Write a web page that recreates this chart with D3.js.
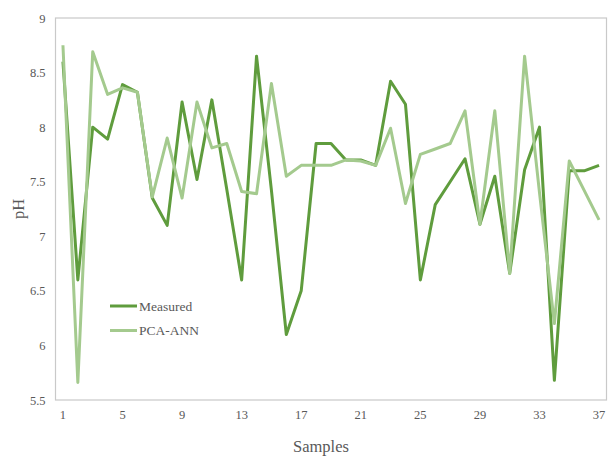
<!DOCTYPE html>
<html><head><meta charset="utf-8">
<script src="https://cdn.jsdelivr.net/npm/d3@7"></script>
<style>body{margin:0;background:#fff}svg{display:block}
svg text{font-family:"Liberation Serif","Times New Roman",Times,"DejaVu Serif",serif !important;}
</style>
</head><body>
<svg id="c" width="609" height="457"></svg>
<script>
const samples = d3.range(1, 38);
const measured = [8.60,6.60,8.00,7.89,8.39,8.32,7.35,7.10,8.23,7.52,8.25,7.43,6.60,8.65,7.42,6.10,6.50,7.85,7.85,7.70,7.70,7.65,8.42,8.21,6.60,7.29,7.50,7.71,7.11,7.55,6.66,7.61,8.00,5.68,7.60,7.60,7.65];
const pcaAnn   = [8.75,5.66,8.69,8.30,8.36,8.32,7.36,7.90,7.35,8.23,7.81,7.85,7.41,7.39,8.40,7.55,7.65,7.65,7.65,7.70,7.69,7.65,7.99,7.30,7.75,7.80,7.85,8.15,7.11,8.15,6.66,8.65,7.40,6.20,7.69,7.42,7.15];
const yTicks = [5.5,6,6.5,7,7.5,8,8.5,9];
const xTickLabels = [1,5,9,13,17,21,25,29,33,37];
const seriesNames = ["Measured","PCA-ANN"];
const colors = ["#5f9c3d","#a4ca8e"];

const svg = d3.select("#c");
const L = 55.5, R = 606.5, T = 18, B = 400;
const x = d3.scaleBand().domain(samples).range([L, R]);
const y = d3.scaleLinear().domain([5.5, 9]).range([B, T]);

svg.append("rect").attr("x", L).attr("y", T).attr("width", R - L).attr("height", B - T)
  .attr("fill", "none").attr("stroke", "#c9c9c9").attr("stroke-width", 1.2);

const yAxis = svg.append("g").attr("transform", `translate(${L},0)`)
  .call(d3.axisLeft(y).tickValues(yTicks).tickSize(0).tickPadding(10).tickFormat(d3.format("~g")));
yAxis.select(".domain").remove();
yAxis.selectAll("text").attr("font-size", 12.5).attr("fill", "#595959");

const xAxis = svg.append("g").attr("transform", `translate(0,${B})`)
  .call(d3.axisBottom(x).tickValues(xTickLabels).tickSize(0).tickPadding(10));
xAxis.select(".domain").remove();
xAxis.selectAll("text").attr("font-size", 12.5).attr("fill", "#595959");

const line = d3.line().x((d, i) => x(samples[i]) + x.bandwidth() / 2).y(d => y(d));
[measured, pcaAnn].forEach((s, k) => {
  svg.append("path").datum(s).attr("d", line).attr("fill", "none")
    .attr("stroke", colors[k]).attr("stroke-width", 3).attr("stroke-linejoin", "round");
});

const lg = svg.append("g");
seriesNames.forEach((n, k) => {
  const yy = 306 + k * 24.5;
  lg.append("line").attr("x1", 110).attr("x2", 137).attr("y1", yy).attr("y2", yy)
    .attr("stroke", colors[k]).attr("stroke-width", 3);
  lg.append("text").attr("x", 139).attr("y", yy).attr("dy", "0.35em")
    .attr("font-size", 13.5).attr("fill", "#595959").text(n);
});

svg.append("text").attr("x", 321).attr("y", 446).attr("dy", "0.35em").attr("text-anchor", "middle")
  .attr("font-size", 16.5).attr("fill", "#595959").text("Samples");
svg.append("text").attr("transform", `translate(18,${(T + B) / 2}) rotate(-90)`).attr("dy", "0.35em")
  .attr("text-anchor", "middle").attr("font-size", 16.5).attr("fill", "#595959").text("pH");
</script>
</body></html>
